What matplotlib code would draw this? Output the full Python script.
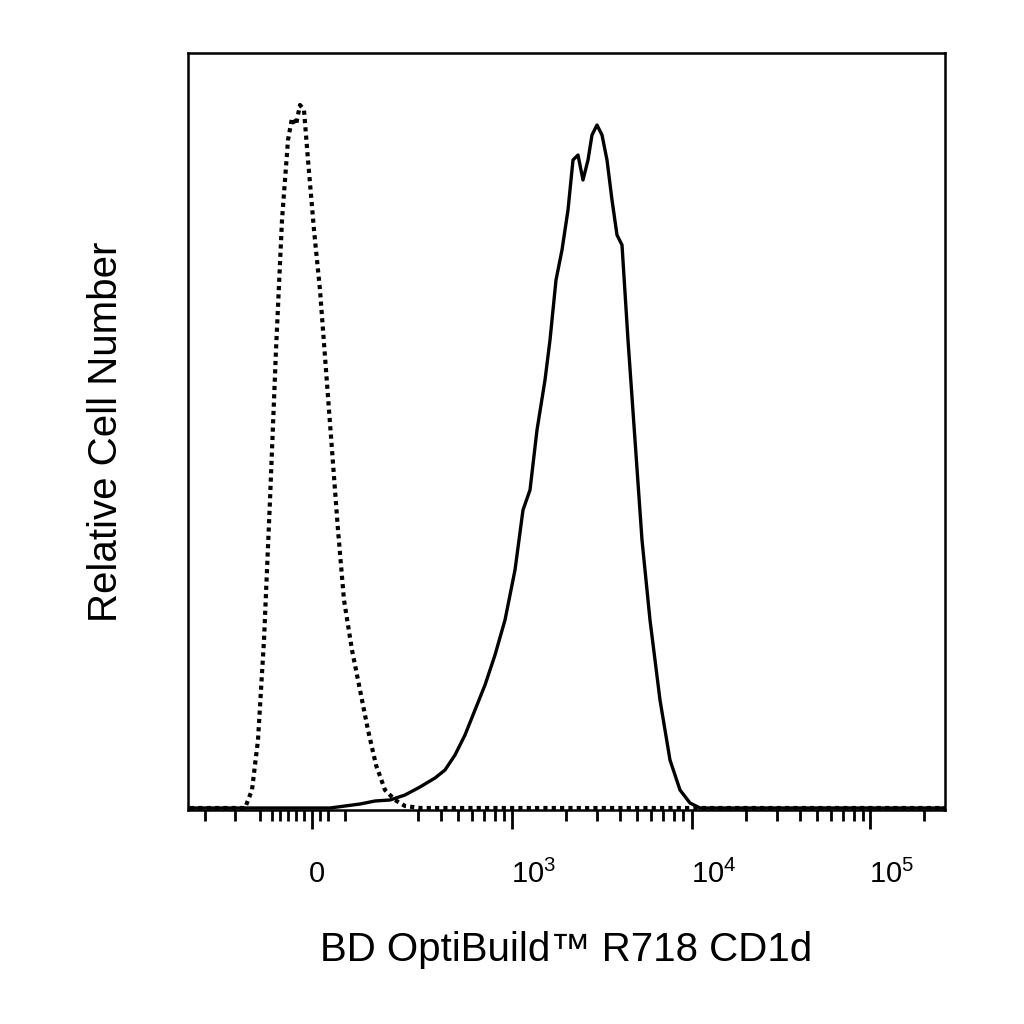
import matplotlib
matplotlib.use("Agg")
import matplotlib.pyplot as plt
import matplotlib.transforms as mtransforms
import numpy as np

# x in display channel units (biexponential axis), y in relative cell number (%)
iso_x = [190,245,252,258,264,270,276,282,288,292,296,300,304,308,314,320,326,332,338,344,352,360,368,376,385,395,405,420,945]
iso_py = [808,808,790,740,640,500,350,220,140,118,125,105,110,160,230,290,370,450,530,600,650,690,730,765,790,800,806,808,808]
cd_x = [190,330,345,360,375,390,405,420,435,445,455,465,475,485,495,505,515,523,530,537,545,550,556,562,568,573,578,583,588,592,597,602,607,612,617,622,628,635,642,650,660,670,680,690,700,945]
cd_py = [808,808,806,804,801,800,795,787,778,770,755,735,710,685,655,620,570,510,490,430,380,340,280,250,210,160,155,180,160,135,125,135,160,200,235,245,340,440,540,620,700,760,790,803,808,808]
iso_y = [(810 - p) / 7.57 for p in iso_py]
cd_y = [(810 - p) / 7.57 for p in cd_py]

major_pos = [312, 512, 692, 870]
major_lab = ["0", r"$10^3$", r"$10^4$", r"$10^5$"]
dec = 179.0
minor_pos = [205, 235, 260, 272, 280, 288, 296, 304, 320, 328, 345]
minor_pos += [512 + dec * np.log10(k / 10) for k in range(3, 10)]
minor_pos += [512 + dec * np.log10(k) for k in range(2, 10)]
minor_pos += [692 + dec * np.log10(k) for k in range(2, 10)]
minor_pos += [870 + dec * np.log10(2)]

plt.rcParams['font.family'] = ['Liberation Sans', 'DejaVu Sans']
plt.rcParams['mathtext.fontset'] = 'custom'
plt.rcParams['mathtext.rm'] = 'Liberation Sans'
fig = plt.figure(figsize=(10.24, 10.24), dpi=100)
ax = fig.add_axes([188/1024, 1-810/1024, 757/1024, 757/1024])
ax.plot(cd_x, cd_y, color='black', lw=2.4)
ax.plot(iso_x, iso_y, color='black', lw=3.0, linestyle=(0, (1, 1)))
ax.set_xlim(188, 945)
ax.set_ylim(0, 100)
ax.set_xticks(major_pos)
ax.set_xticklabels(major_lab, fontsize=21)
ax.set_xticks(minor_pos, minor=True)
ax.tick_params(axis='x', which='major', direction='out', length=14, width=2, pad=22)
ax.tick_params(axis='x', which='minor', direction='out', length=8, width=2)
for i, t in enumerate(ax.get_xticklabels()):
    dx = 5 if i == 0 else 22
    t.set_transform(t.get_transform() + mtransforms.ScaledTranslation(dx/100, 0, fig.dpi_scale_trans))
ax.set_yticks([])
for s in ax.spines.values():
    s.set_linewidth(1.8)
ax.set_xlabel("BD OptiBuild™ R718 CD1d", fontsize=29, labelpad=30)
ax.set_ylabel("Relative Cell Number", fontsize=29, labelpad=45)
fig.savefig("out.png", dpi=100)
